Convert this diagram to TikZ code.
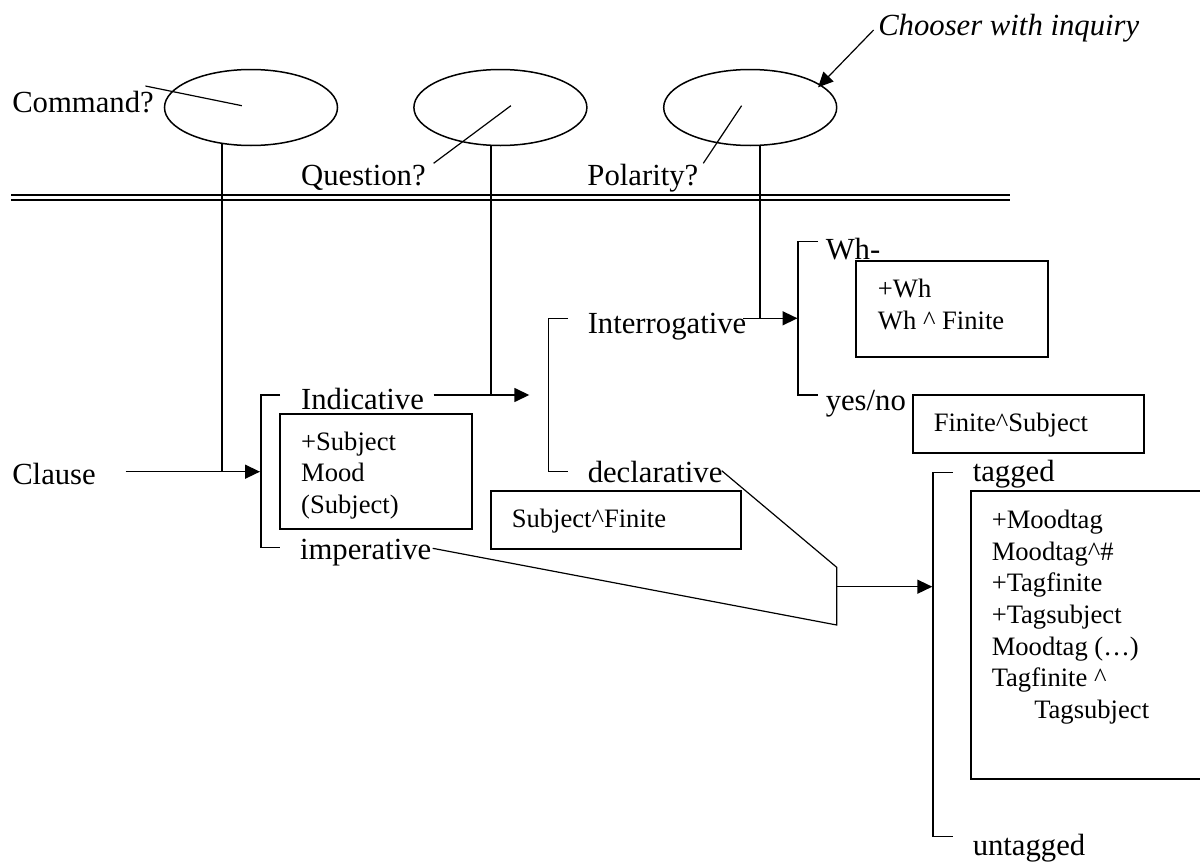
\documentclass[tikz,border=0pt]{standalone}
\usepackage{fontspec}
\setmainfont{Liberation Serif}
\usetikzlibrary{arrows.meta,shapes.geometric}

\begin{document}
\begin{tikzpicture}[x=1bp,y=-1bp,line width=1.5bp,
  big/.style={font=\fontsize{30.7bp}{36bp}\selectfont,inner sep=0pt,anchor=base west},
  bigit/.style={font=\fontsize{30.7bp}{36bp}\selectfont\itshape,inner sep=0pt,anchor=base west},
  small/.style={font=\fontsize{26.6bp}{31.7bp}\selectfont,inner sep=0pt,anchor=base west},
  chooser/.style={draw,fill=white,ellipse,minimum width=173bp,minimum height=76bp,inner sep=0pt},
  featbox/.style={draw,line width=1.7bp,anchor=north west,outer sep=0pt,inner sep=0pt},
  arr/.style={-{Triangle[length=15bp,width=14bp]}},
  rule/.style={line width=2bp},
]
\useasboundingbox (0,0) rectangle (1200,863);

% ---------- inquiry choosers ----------
\coordinate (c1) at (251,107.5);
\coordinate (c2) at (500.4,107.5);
\coordinate (c3) at (750.2,107.5);

% stems hanging from the choosers
\coordinate (s1) at (222,471.7);
\coordinate (s2) at (491,395);
\coordinate (s3) at (759.8,318.3);
\draw (s1) -- (s1 |- c1);
\draw (s2) -- (s2 |- c2);
\draw (s3) -- (s3 |- c3);

\node[chooser] (e1) at (c1) {};
\node[chooser] (e2) at (c2) {};
\node[chooser] (e3) at (c3) {};

\node[big] (command)  at (11.5,112.7) {Command?};
\node[big] (question) at (300.4,185) {Question?};
\node[big] (polarity) at (586.7,185) {Polarity?};
\node[bigit] (chooser) at (877.5,35) {Chooser with inquiry};

% pointer lines from the inquiry names into the choosers
\coordinate (cmdA) at (145.4,86);    \coordinate (cmdB) at (241.9,105.7);
\coordinate (qA)   at (433.6,163.3); \coordinate (qB)   at (510.9,105.7);
\coordinate (pA)   at (703.3,163.3); \coordinate (pB)   at (741.6,105.7);
\draw[line width=1.2bp] (cmdA) -- (cmdB);
\draw[line width=1.2bp] (qA) -- (qB);
\draw[line width=1.2bp] (pA) -- (pB);

\coordinate (chA) at (873.6,30);
\coordinate (chB) at (818.1,87.3);
\draw[arr,line width=1.2bp] (chA) -- (chB);

% double rule separating the choosers from the network
\coordinate (rL) at (11,200.3);  \coordinate (rR) at (1009.5,200.3);
\draw[rule] (rL) -- (rR);
\draw[rule] ([yshift=5.7bp]rL) -- ([yshift=5.7bp]rR);

% ---------- system network ----------
\node[big] (clause)        at (11.5,484) {Clause};
\node[big] (indicative)    at (300.4,409.3) {Indicative};
\node[big] (imperative)    at (299.3,559.3) {imperative};
\node[big] (interrogative) at (587,333.3) {Interrogative};
\node[big] (declarative)   at (587,482) {declarative};
\node[big] (wh)            at (825,259.3) {Wh-};
\node[big] (yesno)         at (825,410) {yes/no};
\node[big] (tagged)        at (972,481.7) {tagged};
\node[big] (untagged)      at (972,855) {untagged};

% Clause -> MOOD system
\coordinate (clA) at (125.5,471.7);
\coordinate (clB) at (260,471.7);
\draw[arr] (clA) -- (clB);

% bracket: Indicative / imperative
\coordinate (b1t) at (261,395);   \coordinate (b1b) at (261,547.7);
\draw (280,395) -- (b1t) -- (b1b) -- (280,547.7);

% Indicative -> bracket
\coordinate (inA) at (433.6,395);
\coordinate (inB) at (529.3,395);
\draw[arr] (inA) -- (inB);

% bracket: Interrogative / declarative
\coordinate (b2t) at (548.7,318.3); \coordinate (b2b) at (548.7,471.7);
\draw (568,318.3) -- (b2t) -- (b2b) -- (568,471.7);

% Interrogative -> bracket
\coordinate (itA) at (743.3,318.3);
\coordinate (itB) at (797.5,318.3);
\draw[arr] (itA) -- (itB);

% bracket: Wh- / yes/no
\coordinate (b3t) at (798.2,241.7); \coordinate (b3b) at (798.2,395);
\draw (818,241.7) -- (b3t) -- (b3b) -- (818,395);

% declarative + imperative joined into the TAG system
\coordinate (dA) at (721.7,470.7);
\coordinate (jT) at (836.7,567.3);
\coordinate (jB) at (836.7,625);
\coordinate (iA) at (432.7,548.3);
\draw[line width=1.2bp] (dA) -- (jT) -- (jB) -- (iA);
\coordinate (jM) at (836.7,586.7);
\coordinate (tgB) at (932.3,586.7);
\draw[arr] (jM) -- (tgB);

% bracket: tagged / untagged
\coordinate (b4t) at (932.8,472.3); \coordinate (b4b) at (932.8,836.7);
\draw (952.8,472.3) -- (b4t) -- (b4b) -- (952.8,836.7);

% ---------- realisation boxes ----------
\node[featbox,minimum width=192.1bp,minimum height=115bp] (boxInd) at (279.8,414.3) {};
\node[small] (ind1) at (300.4,450) {+Subject};
\node[small] (ind2) at (300.4,481.7) {Mood};
\node[small] (ind3) at (300.4,513.4) {(Subject)};

\node[featbox,minimum width=249.7bp,minimum height=57.7bp] (boxDecl) at (491,491) {};
\node[small] (decl1) at (511,527.3) {Subject\textasciicircum Finite};

\node[featbox,minimum width=192.4bp,minimum height=95.7bp] (boxWh) at (855.8,261) {};
\node[small] (wh1) at (877.2,297.3) {+Wh};
\node[small] (wh2) at (877.2,329.3) {Wh \textasciicircum{} Finite};

\node[featbox,minimum width=231.2bp,minimum height=57.7bp] (boxYN) at (913,395) {};
\node[small] (yn1) at (933,431.7) {Finite\textasciicircum Subject};

\node[featbox,minimum width=232bp,minimum height=288.3bp] (boxTag) at (971,491) {};
\node[small] (tag1) at (991,528.3) {+Moodtag};
\node[small] (tag2) at (991,560) {Moodtag\textasciicircum\#};
\node[small] (tag3) at (991,591.7) {+Tagfinite};
\node[small] (tag4) at (991,623.3) {+Tagsubject};
\node[small] (tag5) at (991,655) {Moodtag (…)};
\node[small] (tag6) at (991,686.7) {Tagfinite \textasciicircum};
\node[small] (tag7) at (1033.5,718.3) {Tagsubject};
\end{tikzpicture}
\end{document}
